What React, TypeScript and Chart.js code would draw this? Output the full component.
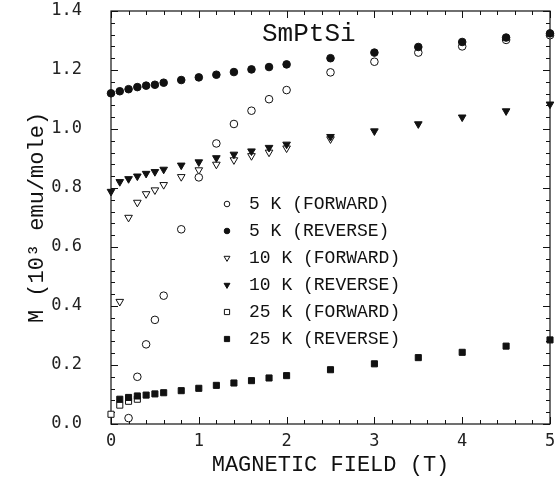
import React, { useEffect, useRef } from 'react';
import { Chart, registerables } from 'chart.js';

Chart.register(...registerables);

// ---- data (field in T, magnetisation in 10^3 emu/mole) ----
const field5KForward = [0.2, 0.3, 0.4, 0.5, 0.6, 0.8, 1.0, 1.2, 1.4, 1.6, 1.8, 2.0, 2.5, 3.0, 3.5, 4.0, 4.5, 5.0];
const moment5KForward = [0.02, 0.16, 0.27, 0.353, 0.435, 0.66, 0.836, 0.951, 1.017, 1.062, 1.101, 1.132, 1.192, 1.228, 1.259, 1.28, 1.302, 1.318];

const field5KReverse = [0, 0.1, 0.2, 0.3, 0.4, 0.5, 0.6, 0.8, 1.0, 1.2, 1.4, 1.6, 1.8, 2.0, 2.5, 3.0, 3.5, 4.0, 4.5, 5.0];
const moment5KReverse = [1.121, 1.128, 1.135, 1.142, 1.147, 1.15, 1.157, 1.166, 1.175, 1.184, 1.193, 1.202, 1.21, 1.219, 1.24, 1.259, 1.278, 1.295, 1.31, 1.324];

const field10KForward = [0.1, 0.2, 0.3, 0.4, 0.5, 0.6, 0.8, 1.0, 1.2, 1.4, 1.6, 1.8, 2.0, 2.5];
const moment10KForward = [0.415, 0.7, 0.751, 0.78, 0.793, 0.811, 0.838, 0.861, 0.88, 0.895, 0.909, 0.921, 0.935, 0.966];

const field10KReverse = [0, 0.1, 0.2, 0.3, 0.4, 0.5, 0.6, 0.8, 1.0, 1.2, 1.4, 1.6, 1.8, 2.0, 2.5, 3.0, 3.5, 4.0, 4.5, 5.0];
const moment10KReverse = [0.788, 0.821, 0.831, 0.84, 0.849, 0.855, 0.863, 0.877, 0.888, 0.902, 0.914, 0.925, 0.937, 0.948, 0.974, 0.993, 1.017, 1.04, 1.061, 1.084];

const field25KForward = [0, 0.1, 0.2, 0.3];
const moment25KForward = [0.033, 0.064, 0.077, 0.084];

const field25KReverse = [0.1, 0.2, 0.3, 0.4, 0.5, 0.6, 0.8, 1.0, 1.2, 1.4, 1.6, 1.8, 2.0, 2.5, 3.0, 3.5, 4.0, 4.5, 5.0];
const moment25KReverse = [0.084, 0.09, 0.095, 0.098, 0.102, 0.106, 0.113, 0.121, 0.131, 0.139, 0.147, 0.156, 0.164, 0.184, 0.204, 0.225, 0.243, 0.264, 0.285];

const seriesLabels = ['5 K (FORWARD)', '5 K (REVERSE)', '10 K (FORWARD)', '10 K (REVERSE)', '25 K (FORWARD)', '25 K (REVERSE)'];
const sampleName = 'SmPtSi';
const xAxisTitle = 'MAGNETIC FIELD (T)';
const yAxisTitle = 'M (10\u00B3 emu/mole)';
const xRange = [0, 5];
const yRange = [0, 1.4];

const MONO = '"Liberation Mono", "DejaVu Sans Mono", monospace';
const TICKFONT = '"DejaVu Sans Mono", monospace';
const INK = '#111';

type Marker = 'circle' | 'triangle' | 'rect';

function makeSet(label: string, xs: number[], ys: number[], style: Marker, filled: boolean) {
  const radius = style === 'circle' ? 3.8 : style === 'triangle' ? 4.4 : 4.3;
  return {
    label,
    data: xs.map((x, i) => ({ x, y: ys[i] })),
    pointStyle: style,
    rotation: style === 'triangle' ? 180 : 0,
    pointRadius: radius,
    pointHoverRadius: radius,
    backgroundColor: filled ? INK : '#fff',
    borderColor: INK,
    pointBorderWidth: 1,
    borderWidth: 1,
    showLine: false,
    clip: false as any,
    order: filled ? 1 : 2,
  };
}

function drawMarker(ctx: CanvasRenderingContext2D, style: Marker, filled: boolean, x: number, y: number) {
  ctx.save();
  ctx.beginPath();
  if (style === 'circle') {
    ctx.arc(x, y, 2.8, 0, Math.PI * 2);
  } else if (style === 'triangle') {
    const r = 3.4;
    ctx.moveTo(x, y + r);
    ctx.lineTo(x - r * 0.866, y - r / 2);
    ctx.lineTo(x + r * 0.866, y - r / 2);
    ctx.closePath();
  } else {
    ctx.rect(x - 2.6, y - 2.6, 5.2, 5.2);
  }
  ctx.fillStyle = filled ? INK : '#fff';
  ctx.strokeStyle = INK;
  ctx.lineWidth = 1;
  ctx.fill();
  ctx.stroke();
  ctx.restore();
}

const markerStyles: Marker[] = ['circle', 'circle', 'triangle', 'triangle', 'rect', 'rect'];
const markerFilled = [false, true, false, true, false, true];

const framePlugin = {
  id: 'frameTicks',
  beforeDatasetsDraw(chart: any) {
    const { ctx, chartArea } = chart;
    const xs = chart.scales.x;
    const ys = chart.scales.y;
    ctx.save();
    ctx.strokeStyle = INK;
    ctx.lineWidth = 1.2;
    ctx.strokeRect(chartArea.left, chartArea.top, chartArea.right - chartArea.left, chartArea.bottom - chartArea.top);
    ctx.lineWidth = 1;
    ctx.beginPath();
    for (let i = 0; i <= 25; i++) {
      const px = Math.round(xs.getPixelForValue(i * 0.2)) + 0.5;
      const len = i % 5 === 0 ? 7 : 4;
      ctx.moveTo(px, chartArea.bottom);
      ctx.lineTo(px, chartArea.bottom - len);
      ctx.moveTo(px, chartArea.top);
      ctx.lineTo(px, chartArea.top + len);
    }
    for (let i = 0; i <= 35; i++) {
      const py = Math.round(ys.getPixelForValue(i * 0.04)) + 0.5;
      const len = i % 5 === 0 ? 7 : 4;
      ctx.moveTo(chartArea.left, py);
      ctx.lineTo(chartArea.left + len, py);
      ctx.moveTo(chartArea.right, py);
      ctx.lineTo(chartArea.right - len, py);
    }
    ctx.stroke();
    ctx.restore();
  },
  afterDraw(chart: any) {
    const { ctx, chartArea } = chart;
    ctx.save();
    ctx.fillStyle = INK;
    ctx.textBaseline = 'middle';
    ctx.textAlign = 'left';
    ctx.font = `26px ${MONO}`;
    ctx.fillText(sampleName, chartArea.left + 151, chartArea.top + 23);
    ctx.font = `18px ${MONO}`;
    for (let i = 0; i < seriesLabels.length; i++) {
      const y = chartArea.top + 193 + i * 27;
      drawMarker(ctx, markerStyles[i], markerFilled[i], chartArea.left + 116, y);
      ctx.fillStyle = INK;
      ctx.fillText(seriesLabels[i], chartArea.left + 138, y);
    }
    ctx.restore();
  },
};

export default function App() {
  const ref = useRef<HTMLCanvasElement | null>(null);
  useEffect(() => {
    if (!ref.current) return;
    const datasets = [
      makeSet(seriesLabels[0], field5KForward, moment5KForward, 'circle', false),
      makeSet(seriesLabels[1], field5KReverse, moment5KReverse, 'circle', true),
      makeSet(seriesLabels[2], field10KForward, moment10KForward, 'triangle', false),
      makeSet(seriesLabels[3], field10KReverse, moment10KReverse, 'triangle', true),
      makeSet(seriesLabels[4], field25KForward, moment25KForward, 'rect', false),
      makeSet(seriesLabels[5], field25KReverse, moment25KReverse, 'rect', true),
    ];
    const chart = new Chart(ref.current, {
      type: 'scatter',
      data: { datasets: datasets as any },
      options: {
        responsive: false,
        animation: false,
        events: [],
        layout: { padding: { left: 0, top: 11, right: 6, bottom: 0 } },
        plugins: { legend: { display: false }, tooltip: { enabled: false } },
        scales: {
          x: {
            type: 'linear',
            min: xRange[0],
            max: xRange[1],
            afterFit: (s: any) => { s.height = 62; s.paddingLeft = 0; s.paddingRight = 0; },
            ticks: {
              stepSize: 1,
              padding: 7,
              maxRotation: 0,
              color: '#222',
              font: { family: TICKFONT, size: 17 },
              callback: (v: any) => String(v),
            },
            grid: { display: false, drawTicks: false },
            border: { display: false },
            title: {
              display: true,
              text: xAxisTitle,
              color: INK,
              font: { family: MONO, size: 22 },
              padding: { top: 0, bottom: 8 },
            },
          },
          y: {
            type: 'linear',
            min: yRange[0],
            max: yRange[1],
            afterFit: (s: any) => { s.width = 111; s.paddingTop = 0; s.paddingBottom = 0; },
            ticks: {
              stepSize: 0.2,
              padding: 29,
              color: '#222',
              font: { family: TICKFONT, size: 17 },
              callback: (v: any) => Number(v).toFixed(1),
            },
            grid: { display: false, drawTicks: false },
            border: { display: false },
            title: {
              display: true,
              text: yAxisTitle,
              color: INK,
              font: { family: MONO, size: 22 },
              padding: { top: 24, bottom: 0 },
            },
          },
        },
      },
      plugins: [framePlugin],
    });
    return () => chart.destroy();
  }, []);
  return (
    <div style={{ position: 'absolute', left: 0, top: 0, width: 556, height: 486, background: '#fff' }}>
      <canvas ref={ref} width={556} height={486} style={{ display: 'block' }} />
    </div>
  );
}
